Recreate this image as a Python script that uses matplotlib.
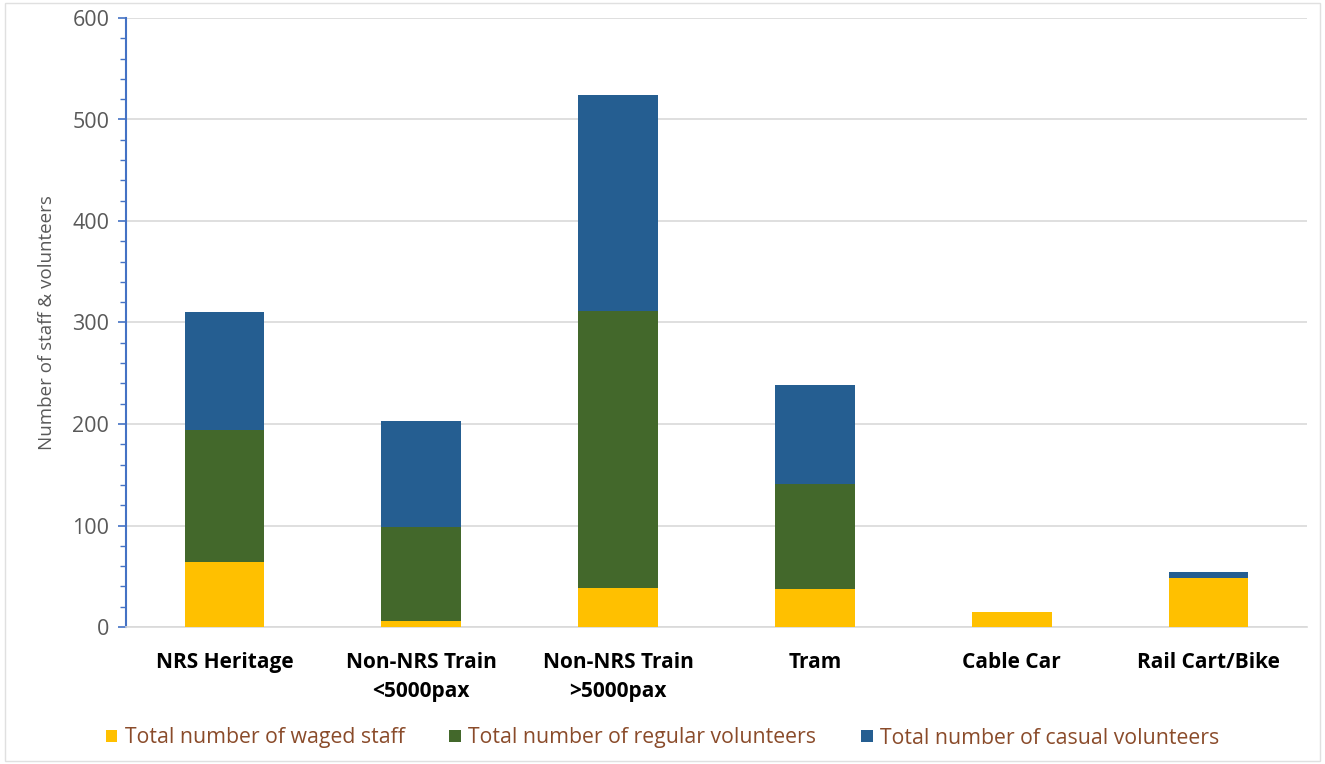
import numpy as np
import matplotlib.pyplot as plt
from matplotlib.ticker import MultipleLocator

categories = ['NRS Heritage', 'Non-NRS Train\n<5000pax', 'Non-NRS Train\n>5000pax',
              'Tram', 'Cable Car', 'Rail Cart/Bike']
waged = [64, 6, 38, 37, 15, 48]
regular = [130, 93, 273, 104, 0, 0]
casual = [116, 104, 213, 97, 0, 6]

series_names = ['Total number of waged staff', 'Total number of regular volunteers',
                'Total number of casual volunteers']
colors = ['#FFC000', '#43682B', '#255E91']

plt.rcParams['font.family'] = ['Open Sans', 'DejaVu Sans']

fig = plt.figure(figsize=(13.25, 7.64), dpi=100)
ax = fig.add_axes([126 / 1325, 1 - 627 / 764, (1307 - 126) / 1325, (627 - 18) / 764])

x = np.arange(len(categories))
w = 0.405
bottom = np.zeros(len(categories))
for vals, name, c in zip([waged, regular, casual], series_names, colors):
    ax.bar(x, vals, w, bottom=bottom, color=c, label=name, zorder=3)
    bottom += np.array(vals)

ax.set_xlim(-0.5, len(categories) - 0.5)
ax.set_ylim(0, 600)
ax.yaxis.set_major_locator(MultipleLocator(100))
ax.yaxis.set_minor_locator(MultipleLocator(20))
ax.grid(axis='y', color='#D9D9D9', linewidth=1.2, zorder=0)

for s in ['top', 'right']:
    ax.spines[s].set_visible(False)
ax.spines['left'].set_color('#4472C4')
ax.spines['left'].set_linewidth(1.5)
ax.spines['bottom'].set_color('#D9D9D9')
ax.spines['bottom'].set_linewidth(1.2)

ax.tick_params(axis='y', which='major', length=6, color='#4472C4', width=1.2,
               labelsize=15.5, labelcolor='#595959', pad=6)
ax.tick_params(axis='y', which='minor', length=4, color='#4472C4', width=1.0)
ax.tick_params(axis='x', length=0, pad=18)
ax.set_xticks(x)
ax.set_xticklabels(categories, fontsize=15, fontweight='bold', color='#000000',
                   linespacing=1.5)

ax.set_ylabel('Number of staff & volunteers', fontsize=13.5, color='#595959', labelpad=12)

leg = fig.legend(loc='center', bbox_to_anchor=(0.5, 1 - 738 / 764), ncol=3, frameon=False,
                 fontsize=15.3, handlelength=0.55, handleheight=0.55, handletextpad=0.35,
                 columnspacing=2.1)
for t in leg.get_texts():
    t.set_color('#8A4B2A')

fig.patches.append(plt.Rectangle((0.004, 0.004), 0.992, 0.992, transform=fig.transFigure,
                                 fill=False, edgecolor='#E0E0E0', linewidth=1))

fig.savefig('out.png', dpi=100)
